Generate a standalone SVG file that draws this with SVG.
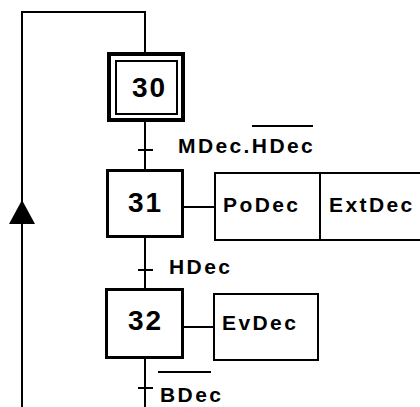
<svg xmlns="http://www.w3.org/2000/svg" width="420" height="407" viewBox="0 0 420 407">
<style>
.ln{stroke:#000;stroke-width:2;fill:none}
.box{fill:#fff;stroke:#000}
.num{font-family:"Liberation Sans",Arial,sans-serif;font-weight:bold;font-size:28px;letter-spacing:2px;fill:#000}
.lbl{font-family:"Liberation Sans",Arial,sans-serif;font-weight:bold;font-size:21px;letter-spacing:2.4px;fill:#000}
</style>
<rect width="420" height="407" fill="#fff"/>
<g id="connectors">
<polyline class="ln" points="145,52 145,12 22,12 22,407"/>
<polygon points="22,200 9,224 35,224" fill="#000"/>
<line class="ln" x1="145" y1="122" x2="145" y2="170"/>
<line class="ln" x1="138" y1="150" x2="153" y2="150"/>
<line class="ln" x1="145" y1="238" x2="145" y2="289"/>
<line class="ln" x1="138" y1="270" x2="153" y2="270"/>
<line class="ln" x1="145" y1="359" x2="145" y2="407"/>
<line class="ln" x1="138" y1="388" x2="153" y2="388"/>
<line class="ln" x1="184" y1="207" x2="215" y2="207"/>
<line class="ln" x1="184" y1="327" x2="214" y2="327"/>
</g>
<g id="step30">
<rect class="box" x="109" y="54" width="74" height="66" stroke-width="4"/>
<rect class="box" x="116" y="61" width="61" height="53" stroke-width="2"/>
<text class="num" x="132" y="97">30</text>
</g>
<g id="t30-31">
<line class="ln" x1="252" y1="126" x2="313" y2="126"/>
<text class="lbl" x="178" y="153">MDec.HDec</text>
</g>
<g id="step31">
<rect class="box" x="107.5" y="170.5" width="75" height="66" stroke-width="3"/>
<text class="num" x="128" y="212">31</text>
</g>
<g id="action31">
<rect class="box" x="215" y="173" width="215" height="67" stroke-width="2"/>
<line class="ln" x1="320" y1="173" x2="320" y2="240"/>
<text class="lbl" x="223" y="212">PoDec</text>
<text class="lbl" x="329" y="212">ExtDec</text>
</g>
<g id="t31-32">
<text class="lbl" x="169" y="274">HDec</text>
</g>
<g id="step32">
<rect class="box" x="106.5" y="289.5" width="76" height="68" stroke-width="3"/>
<text class="num" x="128" y="330">32</text>
</g>
<g id="action32">
<rect class="box" x="214" y="294" width="104" height="66" stroke-width="2"/>
<text class="lbl" x="222" y="330">EvDec</text>
</g>
<g id="t32">
<line class="ln" x1="158" y1="372" x2="211" y2="372"/>
<text class="lbl" x="160" y="402">BDec</text>
</g>
</svg>
